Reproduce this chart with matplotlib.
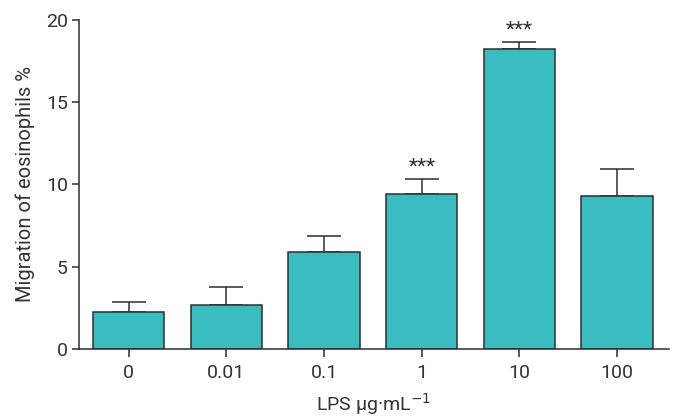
import numpy as np
from matplotlib import pyplot as plt

CATEGORIES = ["0", "0.01", "0.1", "1", "10", "100"]
MEANS = [2.27, 2.69, 5.91, 9.40, 18.24, 9.30]
ERR_UP = [0.61, 1.06, 0.98, 0.95, 0.40, 1.64]
STARS = ["", "", "", "***", "***", ""]

BAR_COLOR = "#3bbcc1"
EDGE = "#2e2e2e"
TEXT = "#333333"

plt.rcParams["font.family"] = ["Roboto", "DejaVu Sans"]

fig = plt.figure(figsize=(6.77, 4.16), dpi=100)
ax = fig.add_axes([0.1167, 0.161, 0.8713, 0.791])

x = np.arange(len(CATEGORIES))
ax.bar(x, MEANS, width=0.73, color=BAR_COLOR, edgecolor=EDGE, linewidth=1.1, zorder=2)
ax.errorbar(x, MEANS, yerr=[np.zeros(len(MEANS)), ERR_UP], fmt="none",
            ecolor=EDGE, elinewidth=1.1, capsize=12, capthick=1.1, zorder=1)

for xi, m, e, s in zip(x, MEANS, ERR_UP, STARS):
    if s:
        ax.text(xi, m + e + 0.15, s, ha="center", va="bottom", fontsize=15, color=TEXT)

ax.set_xlim(-0.51, 5.53)
ax.set_ylim(0, 20)
ax.set_yticks([0, 5, 10, 15, 20])
ax.set_xticks(x)
ax.set_xticklabels(CATEGORIES)

for side in ["top", "right"]:
    ax.spines[side].set_visible(False)
for side in ["left", "bottom"]:
    ax.spines[side].set_color(EDGE)
    ax.spines[side].set_linewidth(1.1)

ax.tick_params(axis="both", colors=EDGE, labelcolor=TEXT, labelsize=14, width=1.1)
ax.tick_params(axis="y", length=5, pad=3)
ax.tick_params(axis="x", length=6, pad=5)

ax.set_ylabel("Migration of eosinophils %", fontsize=14.5, color=TEXT, labelpad=8)
ax.set_xlabel("LPS µg·mL$^{-1}$", fontsize=14, color=TEXT, labelpad=6)

fig.savefig("out.png", dpi=100)
